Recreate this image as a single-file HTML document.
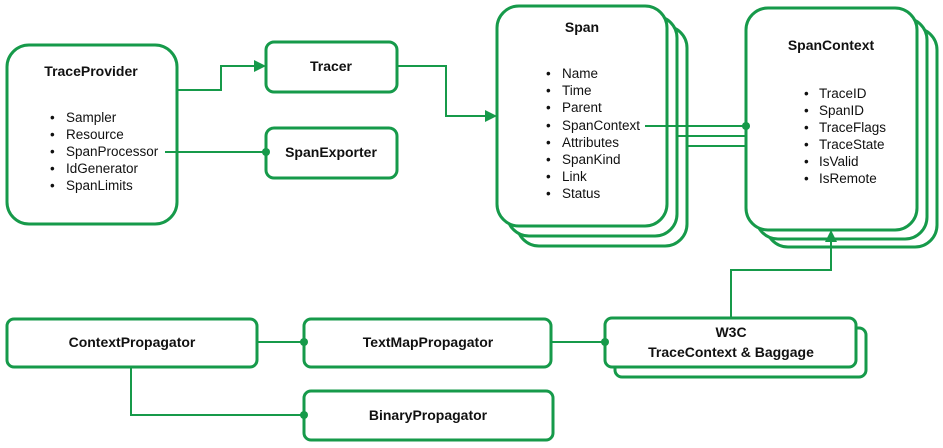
<!DOCTYPE html>
<html><head><meta charset="utf-8"><style>
html,body{margin:0;padding:0;background:#fff;}
svg{display:block}
text{font-family:"Liberation Sans",sans-serif;fill:#111;}
.t{font-weight:bold;font-size:14px;text-anchor:middle}
.l{font-size:13.5px}
</style></head><body>
<svg width="943" height="448" viewBox="0 0 943 448">
<g fill="#fff" stroke="#169a4a" stroke-width="3">
<rect x="7" y="45" width="170" height="179" rx="22"/>
<rect x="266" y="42" width="131" height="50" rx="8"/>
<rect x="266" y="128" width="131" height="50" rx="8"/>
<rect x="517" y="26" width="170" height="220" rx="22"/>
<rect x="507" y="16" width="170" height="220" rx="22"/>
<rect x="497" y="6" width="170" height="220" rx="22"/>
<rect x="766" y="28" width="171" height="219" rx="22"/>
<rect x="756" y="18" width="171" height="221" rx="22"/>
<rect x="746" y="8" width="171" height="222" rx="22"/>
<rect x="7" y="319" width="250" height="48" rx="7"/>
<rect x="304" y="319" width="247" height="48" rx="7"/>
<rect x="615" y="328" width="251" height="49" rx="7"/>
<rect x="605" y="318" width="251" height="49" rx="7"/>
<rect x="304" y="391" width="249" height="49" rx="7"/>
</g>
<g fill="none" stroke="#169a4a" stroke-width="2">
<polyline points="177,90 221,90 221,66 256,66"/>
<polyline points="397,66 446,66 446,116 488,116"/>
<line x1="165" y1="152" x2="266" y2="152"/>
<line x1="645" y1="126" x2="746" y2="126"/>
<line x1="677" y1="136" x2="746" y2="136"/>
<line x1="687" y1="146" x2="746" y2="146"/>
<polyline points="731,318 731,270 831,270 831,240"/>
<line x1="257" y1="342" x2="304" y2="342"/>
<line x1="551" y1="342" x2="605" y2="342"/>
<polyline points="131,367 131,415 304,415"/>
</g>
<g fill="#169a4a">
<polygon points="266,66 254,60 254,72"/>
<polygon points="497,116 485,110 485,122"/>
<polygon points="831,230 825,242 837,242"/>
<circle cx="266" cy="152" r="4"/>
<circle cx="746" cy="126" r="4"/>
<circle cx="304" cy="342" r="4"/>
<circle cx="605" cy="342" r="4"/>
<circle cx="304" cy="415" r="4"/>
</g>
<text class="t" x="91" y="76">TraceProvider</text>
<g class="l">
<text x="50" y="122">•</text><text x="66" y="122">Sampler</text>
<text x="50" y="139">•</text><text x="66" y="139">Resource</text>
<text x="50" y="156">•</text><text x="66" y="156">SpanProcessor</text>
<text x="50" y="173">•</text><text x="66" y="173">IdGenerator</text>
<text x="50" y="190">•</text><text x="66" y="190">SpanLimits</text>
</g>
<text class="t" x="331" y="71">Tracer</text>
<text class="t" x="331" y="157">SpanExporter</text>
<text class="t" x="582" y="32">Span</text>
<g class="l">
<text x="546" y="78">•</text><text x="562" y="78">Name</text>
<text x="546" y="95">•</text><text x="562" y="95">Time</text>
<text x="546" y="112">•</text><text x="562" y="112">Parent</text>
<text x="546" y="130">•</text><text x="562" y="130">SpanContext</text>
<text x="546" y="147">•</text><text x="562" y="147">Attributes</text>
<text x="546" y="164">•</text><text x="562" y="164">SpanKind</text>
<text x="546" y="181">•</text><text x="562" y="181">Link</text>
<text x="546" y="198">•</text><text x="562" y="198">Status</text>
</g>
<text class="t" x="831" y="50">SpanContext</text>
<g class="l">
<text x="804" y="98">•</text><text x="819" y="98">TraceID</text>
<text x="804" y="115">•</text><text x="819" y="115">SpanID</text>
<text x="804" y="132">•</text><text x="819" y="132">TraceFlags</text>
<text x="804" y="149">•</text><text x="819" y="149">TraceState</text>
<text x="804" y="166">•</text><text x="819" y="166">IsValid</text>
<text x="804" y="183">•</text><text x="819" y="183">IsRemote</text>
</g>
<text class="t" x="132" y="347">ContextPropagator</text>
<text class="t" x="428" y="347">TextMapPropagator</text>
<text class="t" x="731" y="337">W3C</text>
<text class="t" x="731" y="357">TraceContext &amp; Baggage</text>
<text class="t" x="428" y="420">BinaryPropagator</text>
</svg>
</body></html>
